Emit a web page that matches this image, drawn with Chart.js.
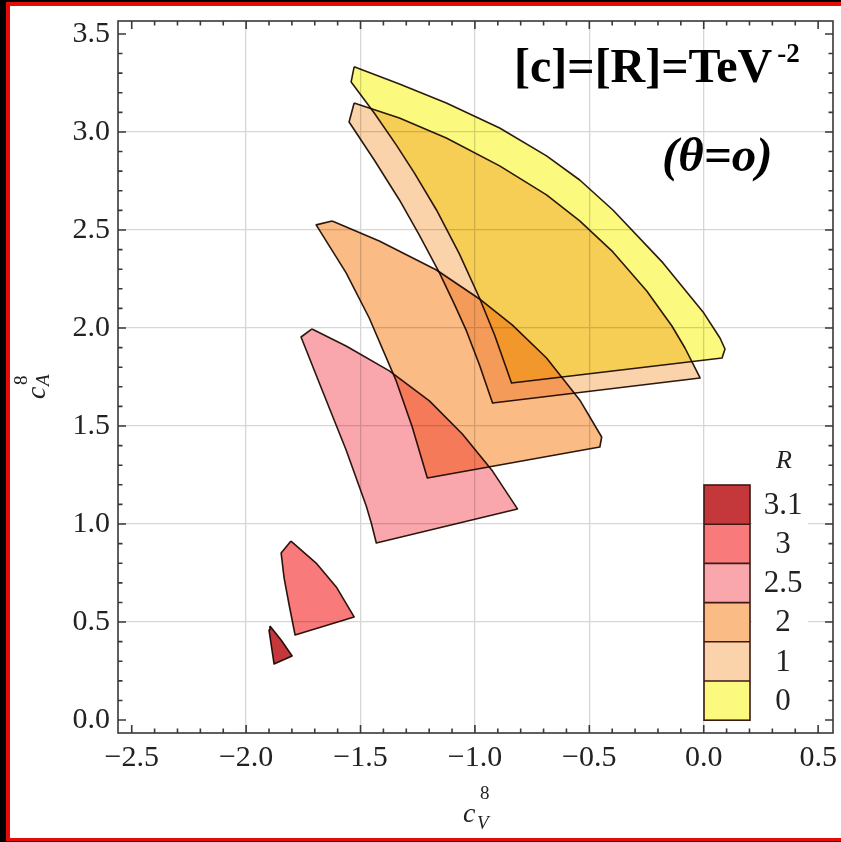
<!DOCTYPE html>
<html><head><meta charset="utf-8">
<script src="https://cdn.jsdelivr.net/npm/chart.js@4.4.0/dist/chart.umd.min.js"></script>
<style>html,body{margin:0;padding:0;background:#000;overflow:hidden}canvas{display:block}</style>
</head><body>
<canvas id="c" width="841" height="842"></canvas>
<script>
// ---- data ----
const rLevels = ['3.1', '3', '2.5', '2', '1', '0'];
const rColors = ['#c4383c', '#f87a7a', '#f9a7ad', '#fabb84', '#fad3ab', '#fbf97e'];
const xTicks = [-2.5, -2.0, -1.5, -1.0, -0.5, 0.0, 0.5];
const yTicks = [0.0, 0.5, 1.0, 1.5, 2.0, 2.5, 3.0, 3.5];

// region outlines (c_V^8, c_A^8) for each R
const cV_R31 = [-1.896, -1.847, -1.799, -1.878, -1.900];
const cA_R31 = [0.480, 0.408, 0.327, 0.286, 0.459];
const cV_R3 = [-1.804, -1.694, -1.606, -1.528, -1.786, -1.812, -1.834, -1.847];
const cA_R3 = [0.913, 0.801, 0.679, 0.526, 0.434, 0.587, 0.724, 0.852];
const cV_R25 = [-1.712, -1.563, -1.374, -1.199, -1.055, -0.923, -0.814, -1.431, -1.453, -1.475, -1.563, -1.668, -1.760];
const cA_R25 = [1.995, 1.908, 1.781, 1.628, 1.459, 1.270, 1.077, 0.903, 1.005, 1.092, 1.378, 1.684, 1.954];
const cV_R2 = [-1.624, -1.418, -1.168, -0.980, -0.836, -0.687, -0.542, -0.446, -0.454, -1.208, -1.274, -1.344, -1.462, -1.563, -1.694];
const cA_R2 = [2.546, 2.444, 2.296, 2.148, 2.015, 1.847, 1.633, 1.444, 1.393, 1.235, 1.495, 1.730, 2.051, 2.281, 2.526];
const cV_R1 = [-1.528, -1.330, -1.125, -0.892, -0.687, -0.542, -0.397, -0.249, -0.139, -0.082, -0.038, -0.016, -0.923, -0.980, -1.037, -1.090, -1.155, -1.243, -1.330, -1.440, -1.550];
const cA_R1 = [3.148, 3.071, 2.969, 2.827, 2.679, 2.546, 2.388, 2.189, 2.010, 1.898, 1.796, 1.745, 1.617, 1.811, 1.985, 2.122, 2.281, 2.474, 2.653, 2.857, 3.051];
const cV_R0 = [-1.528, -1.330, -1.125, -0.892, -0.687, -0.542, -0.397, -0.178, -0.003, 0.071, 0.093, 0.080, -0.840, -0.914, -0.980, -1.068, -1.168, -1.265, -1.344, -1.440, -1.541];
const cA_R0 = [3.332, 3.245, 3.148, 3.020, 2.878, 2.755, 2.602, 2.332, 2.082, 1.949, 1.893, 1.847, 1.719, 1.964, 2.153, 2.378, 2.602, 2.791, 2.934, 3.097, 3.255];

const regionsV = [cV_R31, cV_R3, cV_R25, cV_R2, cV_R1, cV_R0];
const regionsA = [cA_R31, cA_R3, cA_R25, cA_R2, cA_R1, cA_R0];

function poly(xs, ys) {
  const pts = xs.map((x, i) => ({x: x, y: ys[i]}));
  pts.push({x: xs[0], y: ys[0]});
  return pts;
}

const datasets = rLevels.map((r, i) => ({
  label: 'R = ' + r,
  data: poly(regionsV[i], regionsA[i]),
  showLine: true,
  fill: 'shape',
  backgroundColor: rColors[i],
  borderColor: '#2b1a12',
  borderWidth: 1.6,
  borderJoinStyle: 'round',
  pointRadius: 0,
  tension: 0
}));

const SERIF = '"Liberation Serif", "Times New Roman", serif';
const interiorX = v => v > -2.45 && v < 0.45;
const interiorY = v => v > 0.05 && v < 3.45;
const fmt = v => (v < 0 ? '\u2212' : '') + Math.abs(v).toFixed(1);

const bgPlugin = {
  id: 'bg',
  beforeDraw(chart) {
    const ctx = chart.ctx;
    ctx.save();
    ctx.fillStyle = '#000'; ctx.fillRect(0, 0, 841, 842);
    ctx.fillStyle = '#e40b0b'; ctx.fillRect(6, 2, 835, 839);
    ctx.fillStyle = '#fff'; ctx.fillRect(10, 6, 831, 832);
    ctx.restore();
  }
};
const blendPlugin = {
  id: 'blend',
  beforeDatasetsDraw(chart) { chart.ctx.save(); chart.ctx.globalCompositeOperation = 'multiply'; },
  afterDatasetsDraw(chart) { chart.ctx.restore(); }
};
const decoPlugin = {
  id: 'deco',
  afterDraw(chart) {
    const ctx = chart.ctx, xa = chart.scales.x, ya = chart.scales.y;
    const {left, right, top, bottom} = chart.chartArea;
    ctx.save();
    // frame + ticks
    ctx.strokeStyle = '#383838'; ctx.lineWidth = 1.6;
    ctx.strokeRect(left, top, right - left, bottom - top);
    ctx.beginPath();
    for (let i = -25; i <= 5; i++) {
      const px = xa.getPixelForValue(i / 10), L = (i % 5 === 0) ? 8 : 4.5;
      ctx.moveTo(px, bottom); ctx.lineTo(px, bottom - L);
      ctx.moveTo(px, top); ctx.lineTo(px, top + L);
    }
    for (let i = 0; i <= 35; i++) {
      const py = ya.getPixelForValue(i / 10), L = (i % 5 === 0) ? 8 : 4.5;
      ctx.moveTo(left, py); ctx.lineTo(left + L, py);
      ctx.moveTo(right, py); ctx.lineTo(right - L, py);
    }
    ctx.stroke();

    // legend
    const lx = 704, ly = 485, lw = 46, lh = 39.2;
    ctx.fillStyle = '#fff'; ctx.fillRect(752, ly, 56, lh * 6);
    rLevels.forEach((r, i) => {
      ctx.fillStyle = rColors[i];
      ctx.fillRect(lx, ly + i * lh, lw, lh);
    });
    ctx.strokeStyle = '#3d1a14'; ctx.lineWidth = 1.6;
    ctx.strokeRect(lx, ly, lw, lh * 6);
    ctx.beginPath();
    for (let i = 1; i < 6; i++) { ctx.moveTo(lx, ly + i * lh); ctx.lineTo(lx + lw, ly + i * lh); }
    ctx.stroke();
    ctx.fillStyle = '#222'; ctx.textAlign = 'center'; ctx.textBaseline = 'middle';
    ctx.font = '31px ' + SERIF;
    rLevels.forEach((r, i) => ctx.fillText(r, 783, ly + i * lh + lh / 2 + 1));
    ctx.font = 'italic 26px ' + SERIF;
    ctx.fillText('R', 784, 461);

    // annotations
    ctx.fillStyle = '#000'; ctx.textAlign = 'left'; ctx.textBaseline = 'alphabetic';
    ctx.font = 'bold 48px ' + SERIF;
    const t1 = '[c]=[R]=TeV';
    ctx.fillText(t1, 514, 82);
    const w1 = ctx.measureText(t1).width;
    ctx.font = 'bold 27px ' + SERIF;
    ctx.fillText('-2', 514 + w1 + 5, 62);
    ctx.font = 'bold italic 49px ' + SERIF;
    ctx.fillText('(\u03b8=o)', 662, 171);

    // axis titles
    ctx.fillStyle = '#222';
    ctx.font = 'italic 28px ' + SERIF; ctx.fillText('c', 463, 822);
    ctx.font = '19px ' + SERIF; ctx.fillText('8', 480, 799);
    ctx.font = 'italic 19px ' + SERIF; ctx.fillText('V', 477, 829);
    ctx.save();
    ctx.rotate(-Math.PI / 2);
    ctx.font = 'italic 28px ' + SERIF; ctx.fillText('c', -399, 45);
    ctx.font = '19px ' + SERIF; ctx.fillText('8', -385, 27);
    ctx.font = 'italic 19px ' + SERIF; ctx.fillText('A', -386, 49);
    ctx.restore();
    ctx.restore();
  }
};

new Chart(document.getElementById('c'), {
  type: 'scatter',
  data: {datasets: datasets},
  options: {
    responsive: false,
    animation: false,
    devicePixelRatio: 1,
    layout: {padding: {left: 0, right: 8, top: 21, bottom: 0}},
    plugins: {legend: {display: false}, tooltip: {enabled: false}},
    scales: {
      x: {
        type: 'linear', min: -2.56, max: 0.565,
        afterBuildTicks: s => { s.ticks = xTicks.map(v => ({value: v})); },
        afterFit: s => { s.height = 109; s.paddingLeft = 0; s.paddingRight = 0; },
        grid: {drawTicks: false, lineWidth: 1.3, color: c => interiorX(c.tick.value) ? '#d6d6d6' : 'rgba(0,0,0,0)'},
        border: {display: false},
        ticks: {padding: 7, color: '#222', font: {family: SERIF, size: 30}, maxRotation: 0, callback: v => fmt(v)}
      },
      y: {
        type: 'linear', min: -0.066, max: 3.566,
        afterBuildTicks: s => { s.ticks = yTicks.map(v => ({value: v})); },
        afterFit: s => { s.width = 118; s.paddingTop = 0; s.paddingBottom = 0; },
        grid: {drawTicks: false, lineWidth: 1.3, color: c => interiorY(c.tick.value) ? '#d6d6d6' : 'rgba(0,0,0,0)'},
        border: {display: false},
        ticks: {padding: 8, color: '#222', font: {family: SERIF, size: 30}, callback: v => v.toFixed(1)}
      }
    }
  },
  plugins: [bgPlugin, blendPlugin, decoPlugin]
});
</script>
</body></html>
